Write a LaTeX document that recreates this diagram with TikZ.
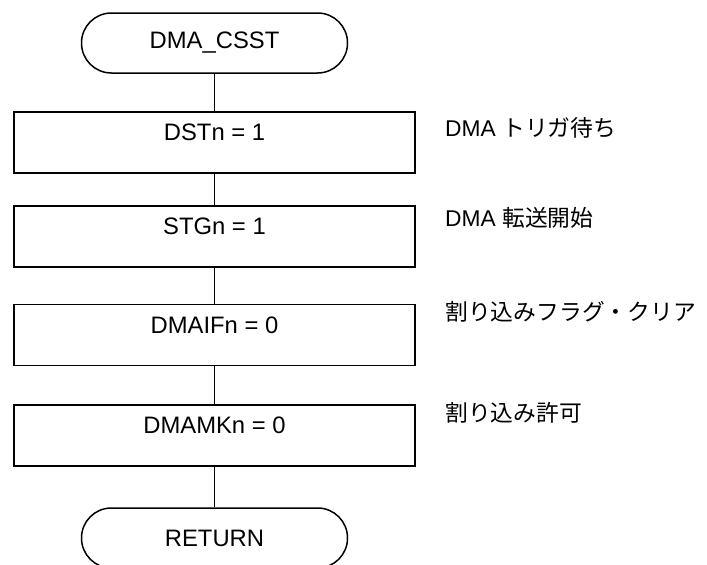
\documentclass[tikz,border=0pt]{standalone}
\usepackage{fontspec}
\setmainfont{Liberation Sans}
\newfontfamily\jp{Noto Sans CJK JP}
\usetikzlibrary{positioning}

\begin{document}
\begin{tikzpicture}[x=1pt,y=-1pt,
    term/.style={draw, line width=1.5pt, rounded corners=29.9pt, minimum width=266pt, minimum height=60pt, inner sep=0pt, font=\fontsize{23.8}{28}\selectfont},
    proc/.style={draw, line width=1.5pt, minimum width=401pt, inner ysep=0pt, text height=28.5pt, text depth=32.5pt, font=\fontsize{23.8}{28}\selectfont},
    note/.style={anchor=west, inner sep=0pt, font=\fontsize{22.8}{27}\selectfont},
    link/.style={line width=1.1pt}]
    \useasboundingbox (0,0) rectangle (707,565);

    \node[term] (start) at (214.5,43) {DMA\_CSST};
    \node[proc] (dst)   at (214.5,142.5) {DSTn = 1};
    \node[proc] (stg)   at (214.5,236.5) {STGn = 1};
    \node[proc] (dmaif) at (214.5,335) {DMAIFn = 0};
    \node[proc] (dmamk) at (214.5,435.5) {DMAMKn = 0};
    \node[term] (ret)   at (214.5,538) {RETURN};

    \node[note] (n1) at (445,128) {DMA {\jp トリガ待ち}};
    \node[note] (n2) at (445,218) {DMA {\jp 転送開始}};
    \node[note] (n3) at (445,312) {\jp 割り込みフラグ・クリア};
    \node[note] (n4) at (445,413) {\jp 割り込み許可};

    \draw[link] (start) -- (dst);
    \draw[link] (dst) -- (stg);
    \draw[link] (stg) -- (dmaif);
    \draw[link] (dmaif) -- (dmamk);
    \draw[link] (dmamk) -- (ret);

\end{tikzpicture}
\end{document}
